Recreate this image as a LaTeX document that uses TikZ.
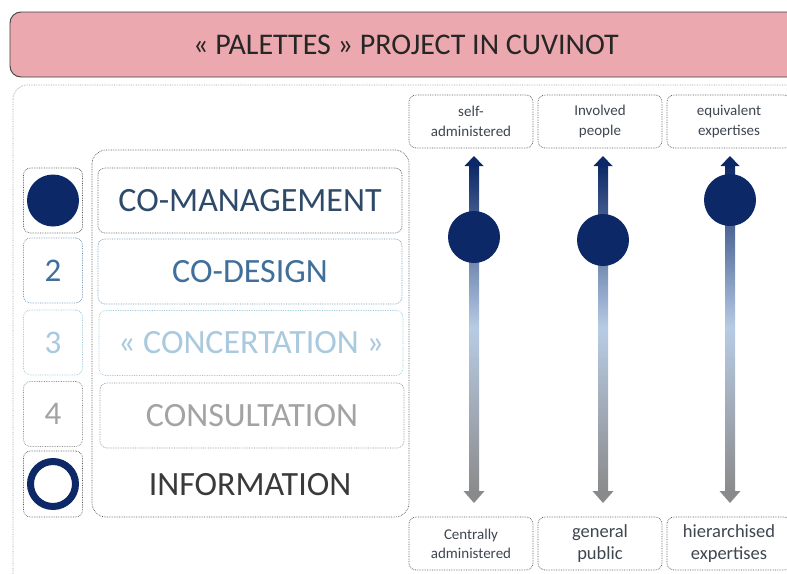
\documentclass[tikz,border=0pt]{standalone}
\usepackage{fontspec}
\setmainfont{Carlito}
\definecolor{navy}{HTML}{0C2866}
\definecolor{pinkfill}{HTML}{EBA8AE}
\definecolor{cmtext}{HTML}{2E4A68}
\definecolor{cdtext}{HTML}{3F6F9A}
\definecolor{cdline}{HTML}{6F94B8}
\definecolor{cctext}{HTML}{A9C9DF}
\definecolor{ccline}{HTML}{96C6DA}
\definecolor{cstext}{HTML}{A3A3A3}
\definecolor{csline}{HTML}{8E8E8E}
\definecolor{intext}{HTML}{3A3A3A}
\definecolor{dotgray}{HTML}{555555}
\definecolor{lblue}{HTML}{B8CBE4}
\definecolor{agray}{HTML}{8A8A8A}
\definecolor{labtext}{HTML}{3E4650}
\tikzset{
  dotbox/.style={draw=dotgray, densely dotted, line width=0.7pt, rounded corners=7pt},
  lvlbox/.style={dotbox, minimum width=304pt, minimum height=65pt, font=\fontsize{34}{36}\selectfont},
  numbox/.style={dotbox, minimum width=59pt, minimum height=65pt, font=\fontsize{33}{35}\selectfont},
  labbox/.style={dotbox, align=center, text=labtext, inner sep=2pt, minimum width=124pt, minimum height=53pt},
}
\begin{document}
\begin{tikzpicture}[x=1pt,y=-1pt]
\useasboundingbox (0,0) rectangle (787,573);
\fill[white] (0,0) rectangle (787,573);
% title
\draw[rounded corners=11pt, fill=pinkfill, draw=black!75, line width=0.9pt] (10,12) rectangle (805,77);
\node[font=\fontsize{30}{32}\selectfont, text=black!85] (title) at (406,45) {« PALETTES » PROJECT IN CUVINOT};
% outer box
\draw[dotbox, rounded corners=14pt, draw=dotgray!55] (13,85) rectangle (805,590);
% group box
\draw[dotbox, rounded corners=14pt] (92,150) rectangle (409,517);
% levels
\node[lvlbox, text=cmtext] (l1) at (250,200.5) {CO-MANAGEMENT};
\node[lvlbox, text=cdtext, draw=cdline] (l2) at (250,271.5) {CO-DESIGN};
\node[lvlbox, text=cctext, draw=ccline] (l3) at (251,343) {« CONCERTATION »};
\node[lvlbox, text=cstext, draw=csline] (l4) at (252,415.5) {CONSULTATION};
\node[font=\fontsize{34}{36}\selectfont, text=intext] (l5) at (250,485) {INFORMATION};
% numbers column
\node[numbox] (n1) at (53,200.5) {};
\node[numbox, text=cdtext, draw=cdline] (n2) at (53,270.5) {2};
\node[numbox, text=cctext, draw=ccline] (n3) at (53,342.5) {3};
\node[numbox, text=cstext, draw=csline] (n4) at (53,414) {4};
\node[numbox, minimum height=66pt] (n5) at (53,484) {};
\fill[navy] (n1.center) circle (26);
\draw[navy, line width=7pt] (n5.center) circle (22.5);
% top labels
\node[labbox, font=\fontsize{15}{20}\selectfont] (t1) at (471,121.5) {self-\\administered};
\node[labbox, font=\fontsize{15}{20}\selectfont] (t2) at (600,121.5) {Involved\\people};
\node[labbox, font=\fontsize{15}{20}\selectfont] (t3) at (729,121.5) {equivalent\\expertises};
% bottom labels
\node[labbox, font=\fontsize{15}{19}\selectfont] (b1) at (471,543.5) {Centrally\\administered};
\node[labbox, font=\fontsize{18.5}{22}\selectfont] (b2) at (600,543.5) {general\\public};
\node[labbox, font=\fontsize{18.5}{22}\selectfont] (b3) at (729,543.5) {hierarchised\\expertises};
% sliders
\foreach \x/\c/\n in {474/237/s1, 603/240/s2, 730/200/s3}{
  \coordinate (\n top) at (\x,156);
  \coordinate (\n bot) at (\x,503);
  \shade[top color=navy, bottom color=agray, middle color=lblue] (\x-5,164) rectangle (\x+5,493);
  \fill[navy] (\n top) -- (\x-9.5,166) -- (\x+9.5,166) -- cycle;
  \fill[agray] (\n bot) -- (\x-10.5,491) -- (\x+10.5,491) -- cycle;
  \fill[navy] (\x,\c) circle (26);
}
\end{tikzpicture}
\end{document}
